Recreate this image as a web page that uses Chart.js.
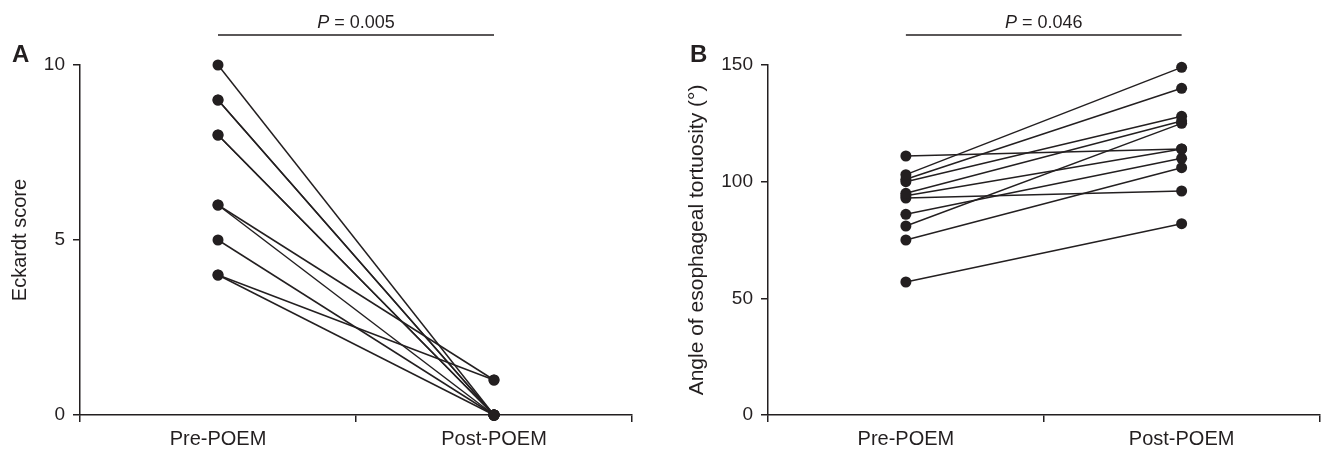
<!DOCTYPE html>
<html>
<head>
<meta charset="utf-8">
<script src="https://cdn.jsdelivr.net/npm/chart.js@4"></script>
<style>
  html, body { margin: 0; padding: 0; background: #fff; }
  #wrap { position: relative; width: 1325px; height: 453px; overflow: hidden; }
  canvas { position: absolute; top: 0; }
  #chartA { left: 0; }
  #chartB { left: 662px; }
</style>
</head>
<body>
<div id="wrap">
  <canvas id="chartA" width="662" height="453"></canvas>
  <canvas id="chartB" width="663" height="453"></canvas>
</div>
<script>
// data
const categories = ['Pre-POEM', 'Post-POEM'];

const eckardtPre  = [10, 9, 9, 8, 8, 6, 6, 5, 4, 4];
const eckardtPost = [0, 0, 0, 0, 0, 1, 0, 0, 1, 0];
const eckardtTicks = [0, 5, 10];

const anglePre  = [111, 103, 101, 100, 95, 94, 93, 86, 81, 75, 57];
const anglePost = [114, 149, 140, 128, 126, 114, 96, 110, 125, 106, 82];
const angleTicks = [0, 50, 100, 150];

const pValueA = '0.005';
const pValueB = '0.046';

const ink = '#231f20';
const font = "'Liberation Sans', Arial, sans-serif";

// P-value bracket and panel letter
const annotate = {
    id: 'annotate',
    afterDraw(chart, args, opts) {
        const ctx = chart.ctx;
        const x = chart.scales.x;
        const x0 = x.getPixelForValue(0);
        const x1 = x.getPixelForValue(1);
        ctx.save();
        ctx.strokeStyle = ink;
        ctx.lineWidth = 1.5;
        ctx.beginPath();
        ctx.moveTo(x0, 35);
        ctx.lineTo(x1, 35);
        ctx.stroke();

        ctx.fillStyle = ink;
        ctx.textBaseline = 'alphabetic';
        ctx.textAlign = 'left';
        const pPart = 'P';
        const rest = ' = ' + opts.p;
        ctx.font = 'italic 18px ' + font;
        const wP = ctx.measureText(pPart).width;
        ctx.font = '18px ' + font;
        const wR = ctx.measureText(rest).width;
        let sx = (x0 + x1) / 2 - (wP + wR) / 2;
        ctx.font = 'italic 18px ' + font;
        ctx.fillText(pPart, sx, 28);
        ctx.font = '18px ' + font;
        ctx.fillText(rest, sx + wP, 28);

        ctx.font = 'bold 24px ' + font;
        ctx.fillText(opts.letter, opts.letterX, 62);
        ctx.restore();
    }
};

function makeChart(id, pre, post, ticks, yTitle, opts) {
    const datasets = pre.map((v, i) => ({
        data: [v, post[i]],
        borderColor: ink,
        backgroundColor: ink,
        borderWidth: 1.5,
        pointRadius: 5.5,
        pointHoverRadius: 5.5,
        pointBorderWidth: 0,
        pointBackgroundColor: ink,
        tension: 0,
        clip: false
    }));

    return new Chart(document.getElementById(id), {
        type: 'line',
        data: { labels: categories, datasets: datasets },
        options: {
            responsive: false,
            animation: false,
            events: [],
            layout: { padding: { left: 0, right: opts.padRight, top: 65, bottom: 0 } },
            plugins: {
                legend: { display: false },
                tooltip: { enabled: false },
                annotate: { p: opts.p, letter: opts.letter, letterX: opts.letterX }
            },
            scales: {
                x: {
                    type: 'category',
                    offset: true,
                    grid: { offset: true, drawOnChartArea: false, tickLength: 7, color: ink, lineWidth: 1.5 },
                    border: { color: ink, width: 1.5 },
                    ticks: { color: ink, font: { family: font, size: 20 }, padding: 5, maxRotation: 0 },
                    afterFit: s => { s.height = 38; }
                },
                y: {
                    min: 0,
                    max: ticks[ticks.length - 1],
                    afterBuildTicks: s => { s.ticks = ticks.map(v => ({ value: v })); },
                    grid: { drawOnChartArea: false, tickLength: 7, color: ink, lineWidth: 1.5 },
                    border: { color: ink, width: 1.5 },
                    ticks: { color: ink, font: { family: font, size: 19 }, padding: 8 },
                    title: {
                        display: true,
                        text: yTitle,
                        color: ink,
                        font: { family: font, size: opts.titleSize },
                        padding: { top: opts.titlePad, bottom: 0 }
                    },
                    afterFit: s => { s.width = opts.axisWidth; }
                }
            }
        },
        plugins: [annotate]
    });
}

makeChart('chartA', eckardtPre, eckardtPost, eckardtTicks, 'Eckardt score',
    { padRight: 30, axisWidth: 80, titlePad: 8, titleSize: 20, p: pValueA, letter: 'A', letterX: 12 });
makeChart('chartB', anglePre, anglePost, angleTicks, 'Angle of esophageal tortuosity (°)',
    { padRight: 5, axisWidth: 106, titlePad: 23, titleSize: 21, p: pValueB, letter: 'B', letterX: 28 });
</script>
</body>
</html>
